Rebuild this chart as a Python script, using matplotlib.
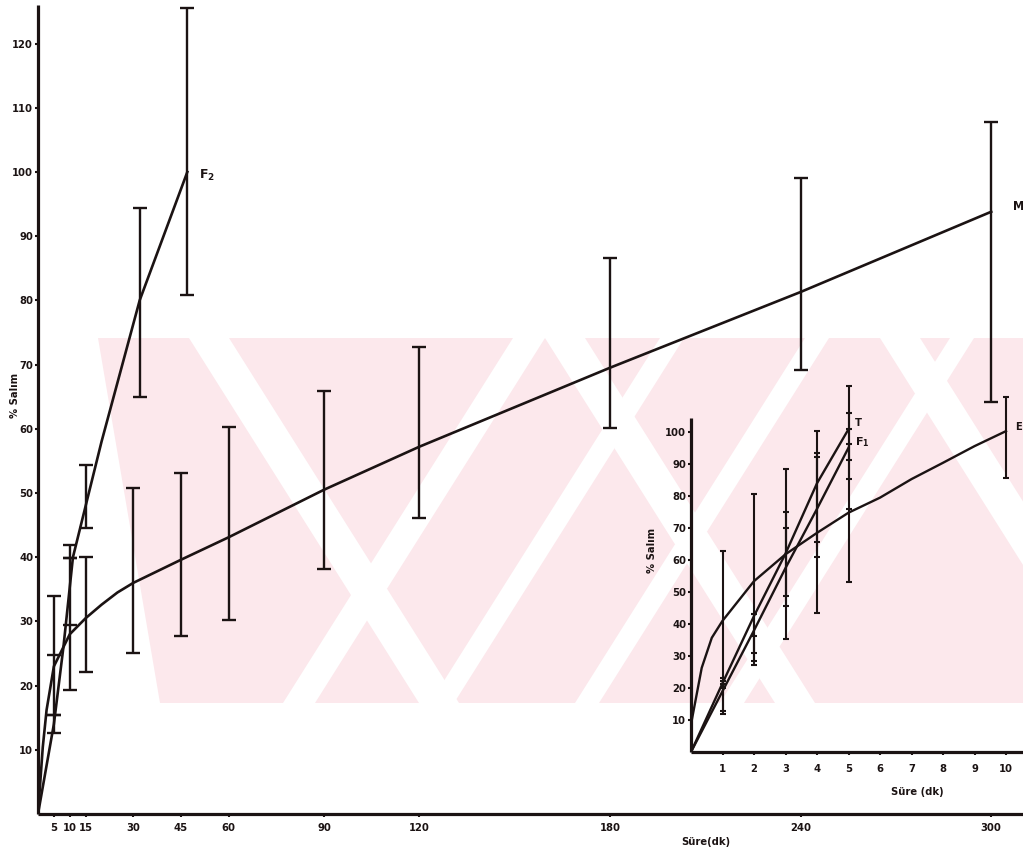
import numpy as np
import matplotlib
matplotlib.use("Agg")
import matplotlib.pyplot as plt
from matplotlib.patches import Polygon

# ---------------- data ----------------
# main panel: time (min) / % release
main_xticks = [5, 10, 15, 30, 45, 60, 90, 120, 180, 240, 300]
main_yticks = [10, 20, 30, 40, 50, 60, 70, 80, 90, 100, 110, 120]

# M : drawn mean curve
m_curve_x = [0, 1.5, 2.7, 5, 10, 15, 20, 25, 30, 45, 60, 90, 120, 180, 240, 300]
m_curve_y = [0, 10.4, 16.2, 23.0, 28.0, 30.5, 32.6, 34.5, 36.0, 39.6, 43.1, 50.5, 57.2, 69.5, 81.3, 93.8]
# M : error bars (lower / upper ends)
m_bar_x = [5, 10, 15, 30, 45, 60, 90, 120, 180, 240, 300]
m_bar_lo = [15.4, 19.3, 22.1, 25.1, 27.7, 30.2, 38.2, 46.1, 60.1, 69.2, 64.2]
m_bar_hi = [34.0, 39.9, 40.0, 50.8, 53.1, 60.3, 65.9, 72.7, 86.6, 99.1, 107.8]
m_mark_x = [5, 10]
m_mark_y = [24.8, 29.4]

# F2 : drawn curve and error bars
f2_curve_x = [0, 5, 8, 11, 15, 20, 32, 47]
f2_curve_y = [0, 14.0, 26.0, 40.0, 48.0, 58.0, 80.0, 100.0]
f2_bar_x = [5, 10, 15, 32, 47]
f2_bar_lo = [12.6, 39.9, 44.5, 65.0, 80.8]
f2_bar_hi = [15.4, 41.9, 54.4, 94.4, 125.6]

# inset panel: time (min) / % release
ins_xticks = [1, 2, 3, 4, 5, 6, 7, 8, 9, 10]
ins_yticks = [10, 20, 30, 40, 50, 60, 70, 80, 90, 100]

t_x = [0, 1, 2, 3, 4, 5]
t_y = [0, 21.5, 42.5, 62.0, 84.0, 100.9]
t_bar_x = [1, 2, 3, 4, 5]
t_bar_lo = [12.8, 31.0, 48.8, 65.5, 91.2]
t_bar_hi = [23.2, 43.1, 75.0, 100.3, 114.4]

f1_x = [0, 1, 2, 3, 4, 5]
f1_y = [0, 19.0, 38.0, 57.5, 76.0, 95.1]
f1_bar_x = [1, 2, 3, 4, 5]
f1_bar_lo = [11.9, 28.4, 45.6, 60.9, 85.4]
f1_bar_hi = [21.2, 36.3, 70.1, 92.3, 106.0]

e_x = [0, 0.02, 0.34, 0.66, 1, 2, 3, 4, 5, 6, 7, 8, 9, 10]
e_y = [0, 9.7, 26.3, 35.7, 41.0, 53.4, 61.8, 68.5, 74.8, 79.5, 85.3, 90.4, 95.6, 100.3]
e_bar_x = [1, 2, 3, 4, 5, 10]
e_bar_lo = [20.0, 27.2, 35.3, 43.5, 53.2, 85.7]
e_bar_hi = [62.8, 80.7, 88.5, 93.5, 96.2, 110.9]
ins_mark_x = [5, 5, 2, 1]
ins_mark_y = [100.9, 75.9, 43.1, 22.3]

# ---------------- figure ----------------
W, H = 1023, 857
fig = plt.figure(figsize=(W / 100, H / 100), dpi=100)
INK = "#1b1313"
PINK = "#fce8ec"
FONT = dict(family="DejaVu Sans", weight="bold", stretch="condensed")


def fx(px):
    return px / W


def fy(py):
    return 1 - py / H


# faint background watermark of the scanned page, on its own bottom layer
bg = fig.add_axes([0, 0, 1, 1], zorder=-5)
bg.set_xlim(0, W)
bg.set_ylim(H, 0)
bg.axis("off")
bg.add_patch(Polygon([(98, 338), (1023, 338), (1023, 703), (160, 703)],
                     closed=True, facecolor=PINK, edgecolor="none"))
SH = 230  # horizontal shift of a diagonal stripe over the band height
for xt, wd in ((513, 32), (660, 24), (805, 24), (950, 24)):     # "/" white gaps
    bg.add_patch(Polygon([(xt, 338), (xt + wd, 338), (xt + wd - SH, 703), (xt - SH, 703)],
                         closed=True, facecolor="white", edgecolor="none"))
for xt in (189, 545, 880):               # "\" white gaps
    bg.add_patch(Polygon([(xt, 338), (xt + 40, 338), (xt + 40 + SH, 703), (xt + SH, 703)],
                         closed=True, facecolor="white", edgecolor="none"))


def style_axes(ax):
    ax.patch.set_alpha(0)
    for s in ("top", "right"):
        ax.spines[s].set_visible(False)
    for s in ("left", "bottom"):
        ax.spines[s].set_linewidth(2.3)
        ax.spines[s].set_color(INK)
        ax.spines[s].set_capstyle("butt")
    ax.tick_params(colors=INK, width=1.5, length=2.5, direction="out")
    for lab in ax.get_xticklabels() + ax.get_yticklabels():
        lab.set_fontfamily(FONT["family"])
        lab.set_fontweight("bold")
        lab.set_fontstretch("condensed")
        lab.set_fontsize(8)


def bars(ax, x, lo, hi, cap, lw):
    lo = np.asarray(lo)
    hi = np.asarray(hi)
    ax.errorbar(x, (lo + hi) / 2, yerr=(hi - lo) / 2, fmt="none", ecolor=INK,
                elinewidth=lw, capsize=cap, capthick=lw, clip_on=False, zorder=3)


# ---- main panel ----
ax = fig.add_axes([fx(38), fy(814), fx(1023) - fx(38), fy(5) - fy(814)], zorder=1)
ax.set_xlim(0, 310)
ax.set_ylim(0, 126)
ax.set_xticks(main_xticks)
ax.set_yticks(main_yticks)
style_axes(ax)
ax.tick_params(axis="x", pad=4)
ax.tick_params(axis="y", pad=1)

ax.plot(m_curve_x, m_curve_y, color=INK, lw=1.9, solid_joinstyle="round", zorder=4)
ax.plot(f2_curve_x, f2_curve_y, color=INK, lw=1.9, solid_joinstyle="round", zorder=4)
bars(ax, m_bar_x, m_bar_lo, m_bar_hi, 5, 1.7)
bars(ax, f2_bar_x, f2_bar_lo, f2_bar_hi, 5, 1.7)
ax.plot(m_mark_x, m_mark_y, ls="none", marker="_", ms=10, mew=1.7, color=INK)

fig.text(fx(199), fy(175), r"$\mathbf{F_2}$", color=INK, fontsize=9, ha="left", va="center")
fig.text(fx(1013), fy(207), "M", color=INK, fontsize=9, ha="left", va="center", **FONT)
fig.text(fx(706), fy(842), "Süre(dk)", color=INK, fontsize=8, ha="center", va="center", **FONT)
fig.text(fx(15), fy(395), "% Salım", color=INK, fontsize=8, ha="center", va="center",
         rotation=90, **FONT)

# ---- inset panel ----
ax2 = fig.add_axes([fx(691), fy(752), fx(1023) - fx(691), fy(418) - fy(752)], zorder=2)
ax2.set_xlim(0, (1023 - 691) / 31.5)
ax2.set_ylim(0, 104.4)
ax2.set_xticks(ins_xticks)
ax2.set_yticks(ins_yticks)
style_axes(ax2)
ax2.tick_params(axis="x", pad=6)
ax2.tick_params(axis="y", pad=1)

ax2.plot(e_x, e_y, color=INK, lw=1.7, solid_joinstyle="round", zorder=4)
ax2.plot(t_x, t_y, color=INK, lw=1.7, zorder=4)
ax2.plot(f1_x, f1_y, color=INK, lw=1.7, zorder=4)
bars(ax2, e_bar_x, e_bar_lo, e_bar_hi, 2.5, 1.5)
bars(ax2, t_bar_x, t_bar_lo, t_bar_hi, 2.2, 1.5)
bars(ax2, f1_bar_x, f1_bar_lo, f1_bar_hi, 2.2, 1.5)
ax2.plot(ins_mark_x, ins_mark_y, ls="none", marker="_", ms=4, mew=1.5, color=INK)

fig.text(fx(855), fy(423), "T", color=INK, fontsize=8, ha="left", va="center", **FONT)
fig.text(fx(855), fy(442), r"$\mathbf{F_1}$", color=INK, fontsize=8, ha="left", va="center")
fig.text(fx(1015), fy(427), "E", color=INK, fontsize=8, ha="left", va="center", **FONT)
fig.text(fx(917), fy(792), "Süre (dk)", color=INK, fontsize=8, ha="center", va="center", **FONT)
fig.text(fx(652), fy(550), "% Salım", color=INK, fontsize=8, ha="center", va="center",
         rotation=90, **FONT)

fig.savefig("out.png", dpi=100)
